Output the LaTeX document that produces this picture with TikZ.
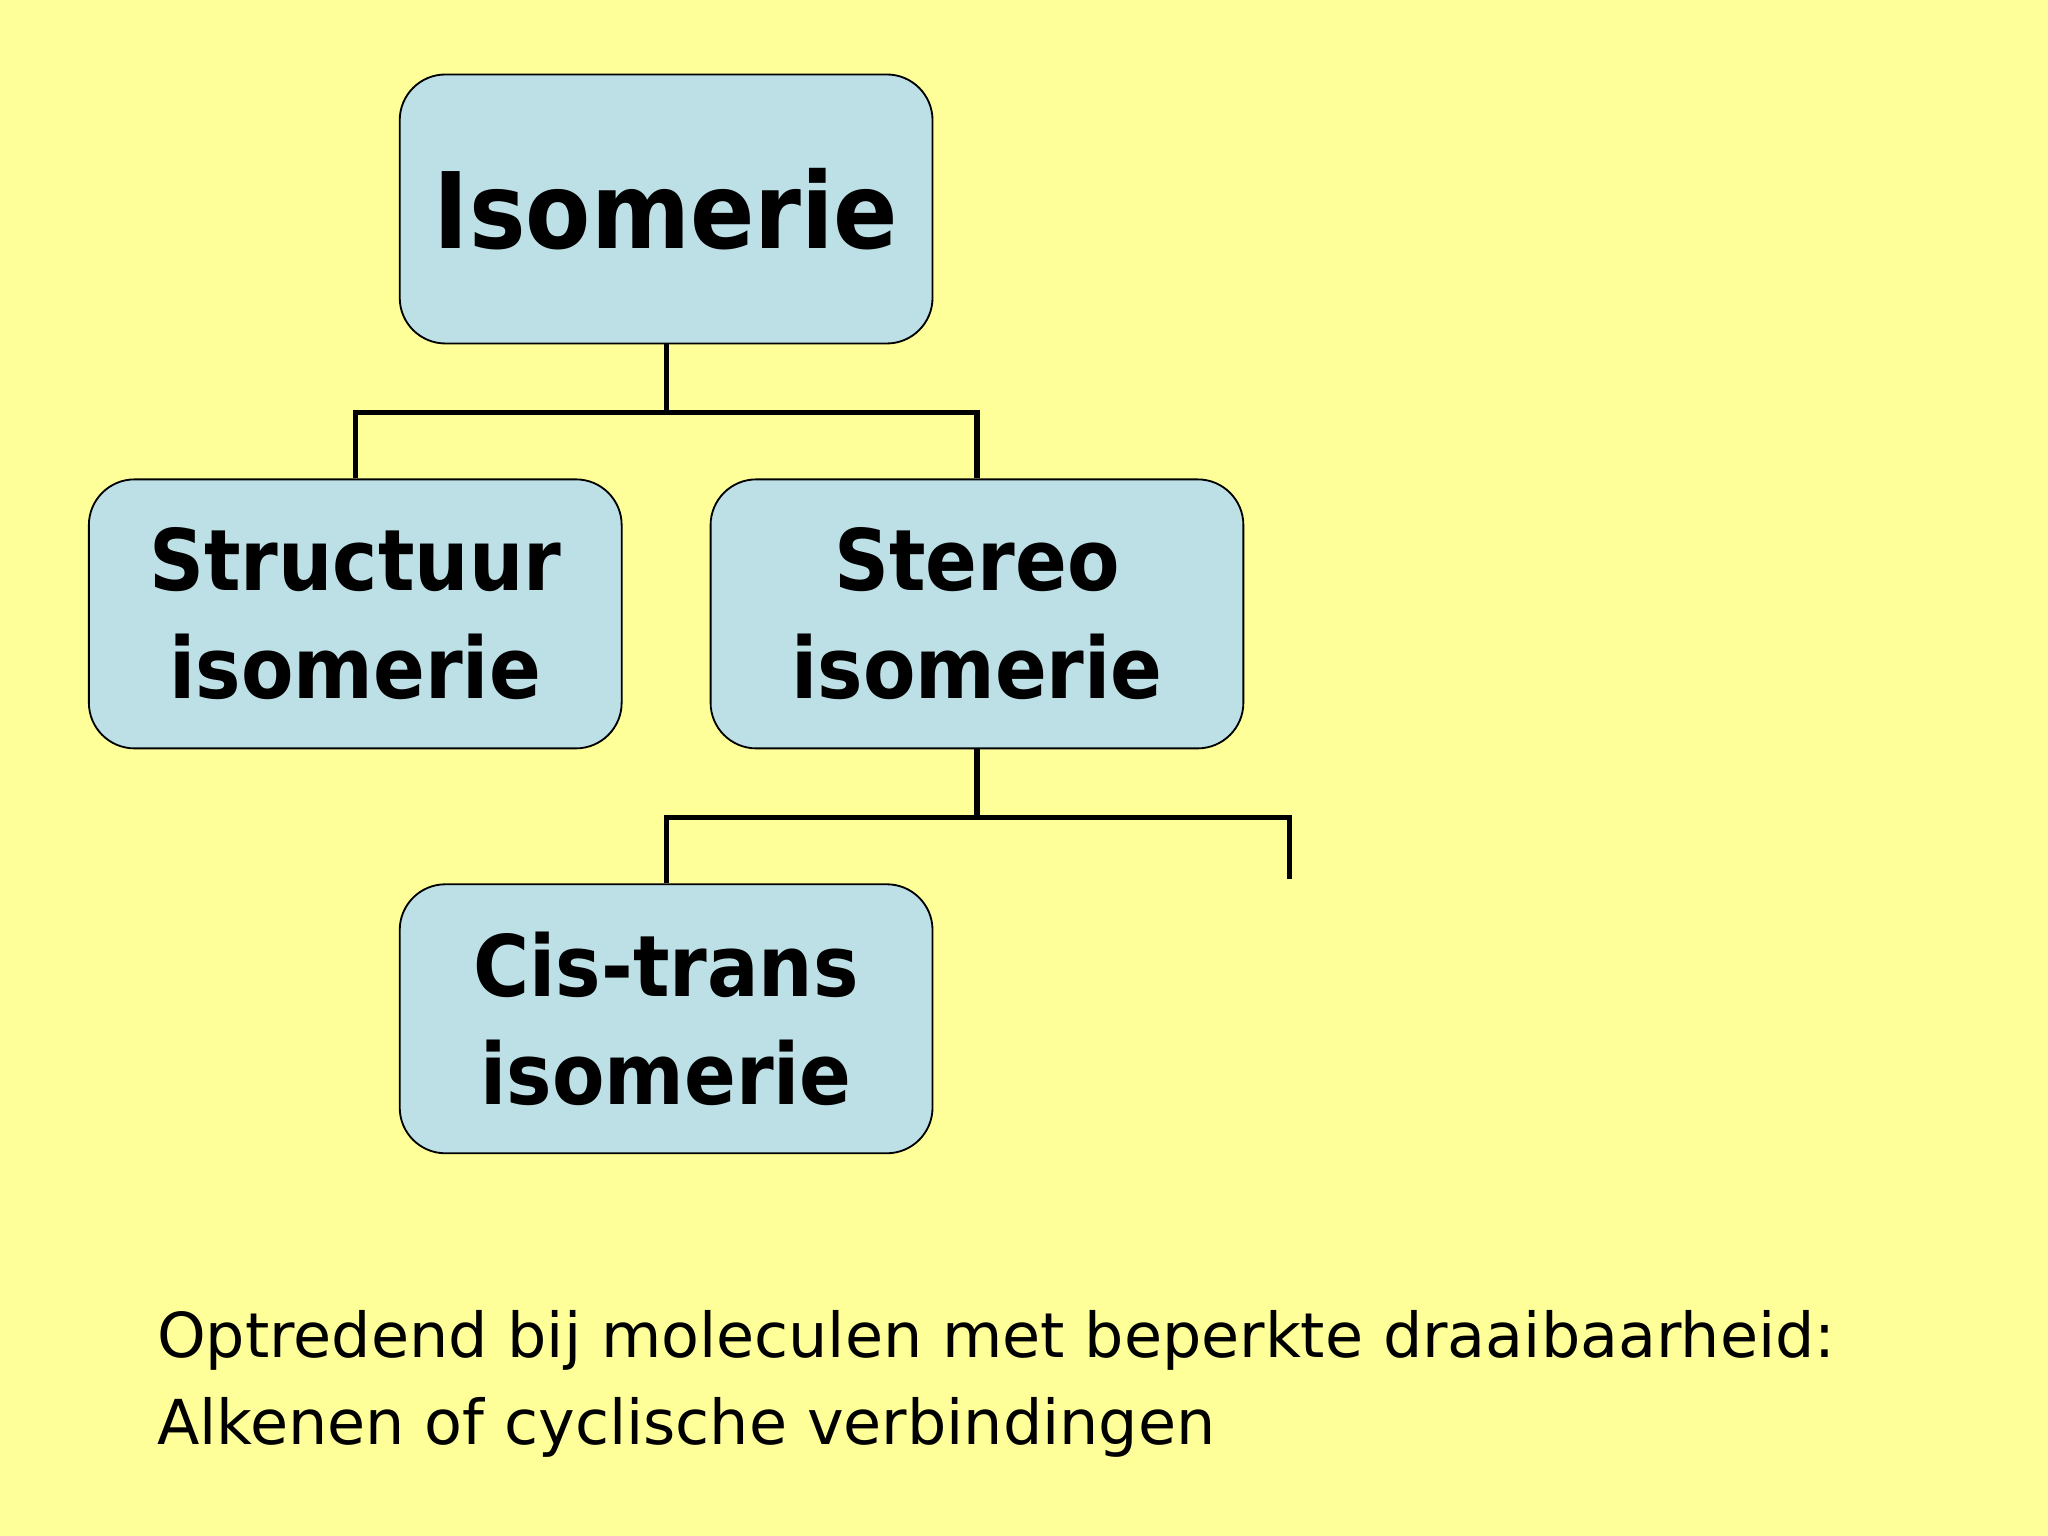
\documentclass[tikz,border=0pt]{standalone}
\usepackage{fontspec}
\setmainfont{DejaVu Sans}
\newfontfamily\condf{DejaVu Sans Condensed}
\begin{document}
\begin{tikzpicture}[x=0.02cm,y=-0.02cm,
  box/.style={draw=black,line width=0.8pt,fill=boxc,rounded corners=0.7cm,minimum width=8.16cm,minimum height=4.12cm,align=center,font=\condf\fontsize{37}{47}\selectfont\bfseries},
  conn/.style={line width=2.2pt}]
\definecolor{bg}{HTML}{FFFF99}
\definecolor{boxc}{HTML}{BCE0E6}
\fill[bg] (0,0) rectangle (1568,1176);
\node[box,font=\condf\fontsize{46}{54}\selectfont\bfseries] (iso) at (510,160) {Isomerie};
\node[box] (str) at (272,470) {Structuur\\isomerie};
\node[box] (ste) at (748,470) {Stereo\\isomerie};
\node[box] (cis) at (510,780) {Cis-trans\\isomerie};
\coordinate (fr) at (987,673);
\draw[conn] (iso.south) -- ++(0,52) -| (str.north);
\draw[conn] (iso.south) ++(0,52) -| (ste.north);
\draw[conn] (ste.south) -- ++(0,52) -| (cis.north);
\draw[conn] (ste.south) ++(0,52) -| (fr);
\node[anchor=north west,align=left,font=\fontsize{27}{38}\selectfont,inner sep=0pt] (txt) at (120,1003) {Optredend bij moleculen met beperkte draaibaarheid:\\Alkenen of cyclische verbindingen};
\end{tikzpicture}
\end{document}
